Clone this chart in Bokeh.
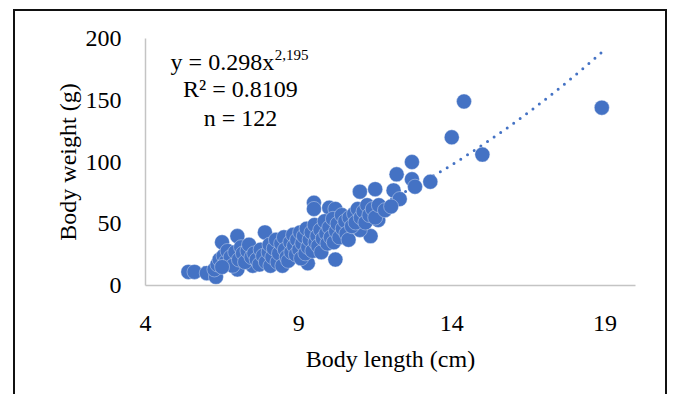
from bokeh.plotting import figure
from bokeh.models import Range1d, FixedTicker, Label, InlineStyleSheet
from bokeh.embed import file_html
from bokeh.resources import INLINE
import numpy as np

# Data
body_length = [
    5.4, 5.6, 6.0, 6.3, 6.5, 7.0, 7.0, 7.5, 7.9, 9.3, 10.2, 9.5, 9.5, 10.0, 10.2,
    11.0, 11.5, 11.35, 11.0, 11.6, 12.1, 12.2, 12.3, 12.7, 12.7, 12.8, 13.3, 14.0,
    14.4, 15.0, 18.9,
    6.25, 6.35, 6.42, 6.55, 6.62, 6.68, 6.78, 6.85, 6.93, 7.05, 7.12, 7.18, 6.5,
    7.25, 7.33, 7.38, 7.46, 7.55, 7.63, 7.72, 7.76, 7.84, 7.93, 8.02, 8.05, 8.08,
    8.14, 8.19, 8.26, 8.31, 8.36, 8.43, 8.47, 8.52, 8.55, 8.61, 8.66, 8.73, 8.76,
    8.82, 8.85, 8.91, 8.95, 9.02, 9.05, 9.08,
    9.12, 9.17, 9.22, 9.26, 9.31, 9.36, 9.42, 9.45, 9.52, 9.55, 9.61, 9.64, 9.71,
    9.74, 9.79, 9.85, 9.9, 9.94, 10.0, 10.05,
    10.12, 10.15, 10.22, 10.27, 10.33, 10.41, 10.44, 10.52, 10.56, 10.63, 10.66,
    10.74, 10.81, 10.86, 10.93,
    11.03, 11.12, 11.18, 11.24, 11.31, 11.42, 11.5, 11.62, 11.82, 12.02,
]
body_weight = [
    11, 11, 10, 7, 35, 40, 13, 16, 43, 18, 21, 67, 62, 63, 62,
    76, 78, 40, 45, 53, 77, 90, 70, 100, 86, 80, 84, 120,
    149, 106, 144,
    13, 17, 21, 24, 19, 28, 23, 16, 27, 21, 31, 26, 15,
    19, 28, 33, 23, 26, 21, 17, 29, 24, 19, 27, 33, 16,
    23, 30, 37, 19, 26, 34, 16, 39, 29, 23, 20, 35, 27,
    41, 32, 25, 37, 29, 43, 22,
    34, 40, 26, 46, 31, 37, 43, 28, 49, 35, 40, 32, 45,
    27, 38, 52, 42, 34, 47, 39,
    54, 35, 44, 50, 39, 57, 46, 52, 42, 37, 55,
    48, 58, 51, 62,
    55, 60, 51, 65, 57, 62, 55, 65, 61, 64,
]

# Power trendline shown on the chart: y = 0.298 x^2.195
trend_coef = 0.298
trend_exp = 2.195

x_ticks = [4, 9, 14, 19]
y_ticks = [0, 50, 100, 150, 200]

BLUE = "#4472C4"
FONT = "Liberation Serif"

W, H = 664, 386
p = figure(width=W, height=H, output_backend="svg", toolbar_location=None,
           x_range=Range1d(4, 20), y_range=Range1d(0, 200),
           min_border_left=145, min_border_right=29,
           min_border_top=38, min_border_bottom=101)
p.outline_line_color = None
p.background_fill_color = "white"
p.border_fill_color = "white"
p.xgrid.grid_line_color = None
p.ygrid.grid_line_color = None

tx = np.linspace(min(body_length), max(body_length), 300)
ty = trend_coef * tx ** trend_exp
p.line(tx, ty, line_color=BLUE, line_width=3, line_dash="0 8", line_cap="round")

p.scatter(body_length, body_weight, size=15, fill_color=BLUE,
          line_color="#e8eef8", line_width=0.4)

for ax in (p.xaxis, p.yaxis):
    ax.axis_line_color = "#c4c4c4"
    ax.axis_line_width = 1.5
    ax.major_tick_line_color = None
    ax.minor_tick_line_color = None
    ax.major_label_text_font = FONT
    ax.major_label_text_font_size = "24px"
    ax.major_label_text_color = "black"
    ax.axis_label_text_font = FONT
    ax.axis_label_text_font_size = "24px"
    ax.axis_label_text_font_style = "normal"
    ax.axis_label_text_color = "black"

p.xaxis.ticker = FixedTicker(ticks=x_ticks)
p.yaxis.ticker = FixedTicker(ticks=y_ticks)
p.xaxis.axis_label = "Body length (cm)"
p.yaxis.axis_label = "Body weight (g)"
p.xaxis.major_label_standoff = 24
p.xaxis.axis_label_standoff = 12
p.yaxis.major_label_standoff = 18
p.yaxis.axis_label_standoff = 2

# Equation annotation
p.add_layout(Label(x=8.2, y=181, text="y = 0.298x", text_align="right",
                   text_baseline="middle", text_font=FONT,
                   text_font_size="24px", text_color="black"))
p.add_layout(Label(x=8.22, y=186.5, text="2,195", text_align="left",
                   text_baseline="middle", text_font=FONT,
                   text_font_size="15px", text_color="black"))
p.add_layout(Label(x=7.1, y=159.5, text="R² = 0.8109", text_align="center",
                   text_baseline="middle", text_font=FONT,
                   text_font_size="24px", text_color="black"))
p.add_layout(Label(x=7.1, y=136, text="n = 122", text_align="center",
                   text_baseline="middle", text_font=FONT,
                   text_font_size="24px", text_color="black"))

# Outer chart border (top, left, right edges; bottom is cut off in the reference)
p.stylesheets = [InlineStyleSheet(css="""
:host { position: relative; }
:host::after {
  content: "";
  position: absolute;
  left: 13px; top: 9px; right: -3px; bottom: -8px;
  border: 2.5px solid #111111;
  border-bottom: none;
  pointer-events: none;
  z-index: 100;
}
""")]

open("out.html", "w").write(file_html(p, INLINE))
